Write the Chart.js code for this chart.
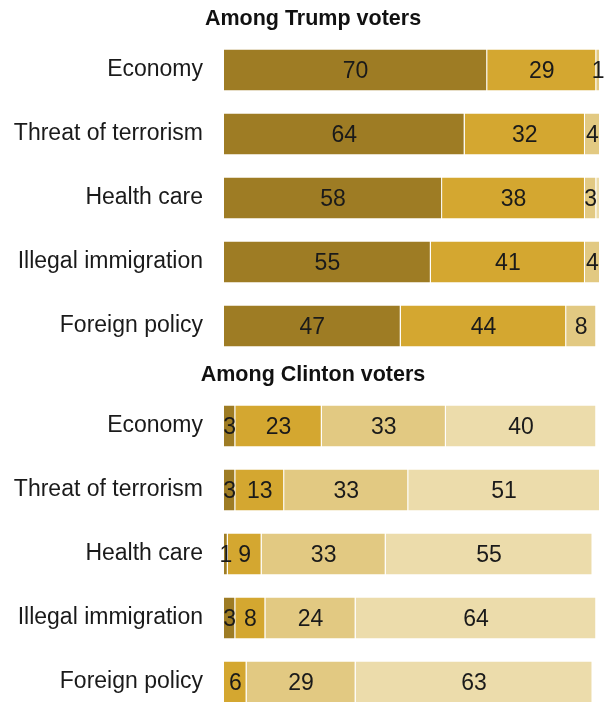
<!DOCTYPE html>
<html>
<head>
<meta charset="utf-8">
<script src="https://cdn.jsdelivr.net/npm/chart.js@4/dist/chart.umd.min.js"></script>
<style>
  html, body { margin: 0; padding: 0; background: #fff; overflow: hidden; }
  #wrap { position: relative; width: 608px; height: 702px; overflow: hidden; }
  .box { position: absolute; left: 0; width: 608px; height: 394px; }
</style>
</head>
<body>
<div id="wrap">
  <div class="box" style="top:0px"><canvas id="c1" width="608" height="394"></canvas></div>
  <div class="box" style="top:356px"><canvas id="c2" width="608" height="394"></canvas></div>
</div>
<script>
const categories = ["Economy", "Threat of terrorism", "Health care", "Illegal immigration", "Foreign policy"];
const seriesNames = ["Very", "Somewhat", "Not too", "Not at all"];
const seriesColors = ["#9e7c24", "#d4a730", "#e2c982", "#ecdcab"];

const panelTitles = ["Among Trump voters", "Among Clinton voters"];

const trumpVery     = [70, 64, 58, 55, 47];
const trumpSomewhat = [29, 32, 38, 41, 44];
const trumpNotToo   = [1, 4, 3, 4, 8];
const trumpNotAtAll = [0, 0, 1, 0, 0];

const clintonVery     = [3, 3, 1, 3, 0];
const clintonSomewhat = [23, 13, 9, 8, 6];
const clintonNotToo   = [33, 33, 33, 24, 29];
const clintonNotAtAll = [40, 51, 55, 64, 63];

const labelFont = "23px 'Liberation Sans', Arial, sans-serif";

const valueLabels = {
  id: 'valueLabels',
  afterDatasetsDraw(chart) {
    const ctx = chart.ctx;
    ctx.save();
    ctx.font = labelFont;
    ctx.fillStyle = '#1a1a1a';
    ctx.textAlign = 'center';
    ctx.textBaseline = 'middle';
    chart.data.datasets.forEach((ds, di) => {
      const meta = chart.getDatasetMeta(di);
      meta.data.forEach((el, i) => {
        const v = ds.data[i];
        if (!v) return;
        if (di === 3 && v < 2) return;
        const p = el.getProps(['x', 'y', 'base'], true);
        ctx.fillText(String(v), (p.x + p.base) / 2, p.y + 2);
      });
    });
    ctx.restore();
  }
};

const panelTitle = {
  id: 'panelTitle',
  afterDraw(chart, args, opts) {
    const ctx = chart.ctx;
    ctx.save();
    ctx.font = "bold 21.5px 'Liberation Sans', Arial, sans-serif";
    ctx.fillStyle = '#111';
    ctx.textAlign = 'center';
    ctx.textBaseline = 'middle';
    ctx.fillText(opts.text, chart.width / 2 + 9, 19);
    ctx.restore();
  }
};

function makeChart(id, title, values) {
  return new Chart(document.getElementById(id), {
    type: 'bar',
    data: {
      labels: categories,
      datasets: values.map((arr, k) => ({
        label: seriesNames[k],
        data: arr,
        backgroundColor: seriesColors[k],
        borderColor: '#ffffff',
        borderWidth: { left: 0, right: 1, top: 0, bottom: 0 },
        borderSkipped: false,
        categoryPercentage: 1,
        barPercentage: 0.64
      }))
    },
    options: {
      indexAxis: 'y',
      responsive: false,
      animation: false,
      layout: { padding: { top: 38, bottom: 36, right: 8, left: 0 } },
      plugins: {
        legend: { display: false },
        tooltip: { enabled: false },
        panelTitle: { text: title }
      },
      scales: {
        x: { stacked: true, min: 0, max: 100, display: false },
        y: {
          stacked: true,
          grid: { display: false, drawTicks: false },
          border: { display: false },
          ticks: {
            padding: 21,
            color: '#1a1a1a',
            font: { family: "'Liberation Sans', Arial, sans-serif", size: 23 }
          },
          afterFit(scale) { scale.width = 224; }
        }
      }
    },
    plugins: [valueLabels, panelTitle]
  });
}

makeChart('c1', panelTitles[0], [trumpVery, trumpSomewhat, trumpNotToo, trumpNotAtAll]);
makeChart('c2', panelTitles[1], [clintonVery, clintonSomewhat, clintonNotToo, clintonNotAtAll]);
</script>
</body>
</html>
